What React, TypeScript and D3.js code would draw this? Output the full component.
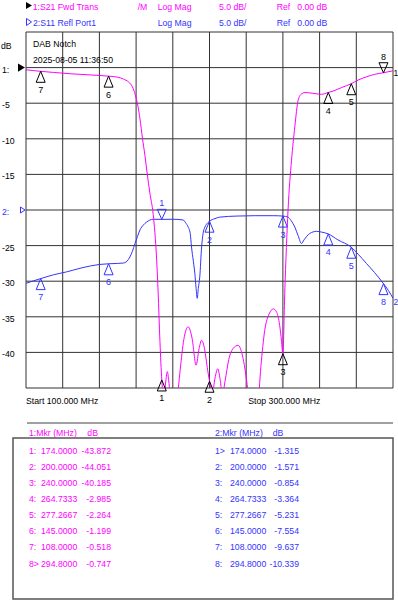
import React, { useEffect, useRef } from 'react';
import * as d3 from 'd3';

// S21 (trace 1), MHz / dB
const s21Freq = [100, 104, 108, 115, 125, 135, 145, 150, 153, 156, 158, 159.5, 161, 162.1, 163.5, 164.8, 166, 167.5, 169.3, 171.2, 172, 173, 174, 175.2, 176.2, 177, 177.8, 179, 180.5, 182.2, 184, 186, 188.4, 190.5, 192.7, 194.3, 195.7, 197.3, 199, 200, 201.5, 203, 204.5, 205.8, 207, 208.5, 210.5, 213, 215.6, 218, 220.5, 222, 224, 226.3, 228, 230.1, 232.5, 234.8, 236.5, 238, 239, 240, 241, 242.8, 244.7, 246.5, 248.3, 250.1, 252, 256, 261, 264.7, 267.3, 272, 277.27, 281, 285.5, 290, 294.8, 300];
const s21Db = [-0.3, -0.42, -0.52, -0.68, -0.88, -1.03, -1.2, -1.35, -1.6, -2.05, -2.7, -3.8, -5.4, -7.2, -10, -12.3, -14.8, -17.6, -20.6, -27, -31.5, -38.5, -43.872, -46.5, -44, -42.7, -44, -47.5, -49, -47, -42.5, -38.2, -36.4, -38, -41.8, -39.5, -38.3, -39.5, -42.5, -44.051, -45.8, -43.6, -42.3, -43.8, -46, -44, -41, -39.4, -39, -40.5, -44.5, -48, -49, -47.5, -42, -36.9, -34.6, -33.9, -34.3, -35.8, -37.8, -40.185, -31.7, -20, -13, -8.3, -4.6, -3.7, -3.5, -3.6, -3.75, -3.5, -3.3, -2.8, -2.264, -1.75, -1.3, -0.95, -0.72, -0.45];

// S11 (trace 2), plotted 20 dB lower (ref position at the "2:" line)
const s11Freq = [100, 104, 108, 115, 122, 130, 140, 145, 150, 153, 155, 156.6, 158, 159.4, 160.8, 162.1, 164, 165.7, 169.3, 174, 180, 185.6, 187, 188.4, 189.5, 190.2, 191.2, 192, 192.7, 193.3, 193.9, 194.7, 195.7, 196.5, 197.5, 199, 200, 203, 205.6, 215, 224.7, 235, 240, 242.8, 244.5, 246.5, 248.3, 250.1, 251.5, 254.6, 258.3, 261, 264.73, 270, 277.27, 281, 285.5, 290, 294.8, 297.5, 300];
const s11Db = [-10.3, -9.95, -9.637, -9.1, -8.7, -8.15, -7.65, -7.554, -7.5, -7.45, -7.2, -6.6, -5.8, -4.7, -3.7, -2.8, -2.1, -1.7, -1.3, -1.315, -1.3, -1.4, -1.8, -2.4, -3.3, -5.2, -7.2, -8.9, -11, -12.4, -11, -9.4, -5.2, -3.3, -2.4, -1.8, -1.571, -1.2, -1.0, -0.85, -0.8, -0.8, -0.854, -1.0, -1.5, -2.4, -3.6, -4.7, -4.2, -3.3, -3.0, -3.1, -3.364, -4.2, -5.231, -6.2, -7.5, -8.8, -10.339, -11.3, -12.4];
const s11Offset = -20;

// marker table
const markerIds = ['1', '2', '3', '4', '5', '6', '7', '8'];
const markerFreq = [174, 200, 240, 264.7333, 277.2667, 145, 108, 294.8];
const s21MarkerDb = [-43.872, -44.051, -40.185, -2.985, -2.264, -1.199, -0.518, -0.747];
const s11MarkerDb = [-1.315, -1.571, -0.854, -3.364, -5.231, -7.554, -9.637, -10.339];
const s21Active = 7;
const s11Active = 0;

const yTicks = [0, -5, -10, -15, -20, -25, -30, -35, -40];
const yTickLabels = ['1:', '-5', '-10', '-15', '2:', '-25', '-30', '-35', '-40'];

const W = 398;
const H = 600;
const plot = { left: 26, right: 393, top: 32, bottom: 388 };
const MAGENTA = '#ff00ff';
const BLUE = '#3434ff';
const GRID = '#333';
const FONT = '"Liberation Sans", Arial, sans-serif';
const FS = 8.7;

const interp = (fs: number[], ds: number[], f: number) => {
  const i = d3.bisectLeft(fs, f);
  if (fs[i] === f) return ds[i];
  const t = (f - fs[i - 1]) / (fs[i] - fs[i - 1]);
  return ds[i - 1] + t * (ds[i] - ds[i - 1]);
};

const App: React.FC = () => {
  const svgRef = useRef<SVGSVGElement>(null);

  useEffect(() => {
    if (!svgRef.current) return;
    const svg = d3.select(svgRef.current);
    svg.selectAll('*').remove();

    const x = d3.scaleLinear().domain([100, 300]).range([plot.left, plot.right]);
    const y = d3.scaleLinear().domain([5, -45]).range([plot.top, plot.bottom]);

    const txt = (px: number, py: number, s: string, color = '#000', anchor = 'start', size = FS) =>
      svg.append('text')
        .attr('x', px).attr('y', py)
        .attr('fill', color)
        .attr('font-family', FONT)
        .attr('font-size', size)
        .attr('text-anchor', anchor)
        .style('white-space', 'pre')
        .text(s);

    // header
    svg.append('path').attr('d', 'M26,2 L32,5.5 L26,9 Z').attr('fill', '#000');
    svg.append('path').attr('d', 'M26.5,18.5 L31.5,22 L26.5,25.5 Z').attr('fill', 'none').attr('stroke', BLUE);
    txt(32.7, 9.5, '1:S21 Fwd Trans', MAGENTA);
    txt(137.7, 9.5, '/M', MAGENTA);
    txt(157.7, 9.5, 'Log Mag', MAGENTA);
    txt(219, 9.5, '5.0 dB/', MAGENTA);
    txt(276.7, 9.5, 'Ref', MAGENTA);
    txt(297.3, 9.5, '0.00 dB', MAGENTA);
    txt(33, 26, '2:S11 Refl Port1', BLUE);
    txt(157.7, 26, 'Log Mag', BLUE);
    txt(219, 26, '5.0 dB/', BLUE);
    txt(276.7, 26, 'Ref', BLUE);
    txt(297.3, 26, '0.00 dB', BLUE);

    // grid
    const grid = svg.append('g').attr('stroke', GRID).attr('stroke-width', 1);
    d3.range(100, 301, 20).forEach(f => {
      grid.append('line').attr('x1', x(f)).attr('x2', x(f)).attr('y1', plot.top).attr('y2', plot.bottom);
    });
    d3.range(5, -46, -5).forEach(v => {
      grid.append('line').attr('x1', plot.left).attr('x2', plot.right).attr('y1', y(v)).attr('y2', y(v));
    });

    // y labels
    txt(1, 48.5, 'dB');
    yTicks.forEach((v, i) => {
      const col = yTickLabels[i] === '2:' ? BLUE : '#000';
      txt(2, y(v) + 5, yTickLabels[i], col);
    });
    const y0 = y(0);
    svg.append('path').attr('d', `M18,${y0 - 4.2} L25,${y0} L18,${y0 + 4.2} Z`).attr('fill', '#000');
    const y2 = y(s11Offset);
    svg.append('path').attr('d', `M20.5,${y2 - 3} L25,${y2} L20.5,${y2 + 3} Z`).attr('fill', 'none').attr('stroke', BLUE);

    txt(33, 47, 'DAB Notch');
    txt(33, 62.5, '2025-08-05 11:36:50');

    // traces
    svg.append('clipPath').attr('id', 'plotClip')
      .append('rect')
      .attr('x', plot.left).attr('y', plot.top)
      .attr('width', plot.right - plot.left).attr('height', plot.bottom - plot.top);

    const line = d3.line<[number, number]>()
      .x(d => x(d[0]))
      .y(d => y(d[1]))
      .curve(d3.curveMonotoneX);

    const s11Pts = s11Freq.map((f, i) => [f, s11Db[i] + s11Offset] as [number, number]);
    const s21Pts = s21Freq.map((f, i) => [f, s21Db[i]] as [number, number]);

    const traces = svg.append('g').attr('clip-path', 'url(#plotClip)').attr('fill', 'none');
    traces.append('path').attr('d', line(s11Pts)).attr('stroke', BLUE).attr('stroke-width', 1);
    traces.append('path').attr('d', line(s21Pts)).attr('stroke', MAGENTA).attr('stroke-width', 1);

    // markers
    const drawMarker = (px: number, py: number, id: string, active: boolean, color: string) => {
      if (active) {
        svg.append('path')
          .attr('d', `M${px},${py} L${px - 4.5},${py - 10} L${px + 4.5},${py - 10} Z`)
          .attr('fill', 'none').attr('stroke', color);
        txt(px, py - 13, id, color, 'middle', 9);
      } else {
        svg.append('path')
          .attr('d', `M${px},${py} L${px - 4.5},${py + 11} L${px + 4.5},${py + 11} Z`)
          .attr('fill', 'none').attr('stroke', color);
        txt(px, py + 21.5, id, color, 'middle', 9);
      }
    };
    markerFreq.forEach((f, i) => {
      const v = interp(s11Freq, s11Db, f) + s11Offset;
      drawMarker(x(f), y(v), markerIds[i], i === s11Active, BLUE);
    });
    markerFreq.forEach((f, i) => {
      const v = interp(s21Freq, s21Db, f);
      drawMarker(x(f), y(v), markerIds[i], i === s21Active, '#000');
    });

    // trace end labels
    txt(plot.right + 0.5, y(s21Db[s21Db.length - 1]) + 5, '1', '#000', 'start', 8.5);
    txt(plot.right + 0.5, y(s11Db[s11Db.length - 1] + s11Offset) + 6.5, '2', BLUE, 'start', 8.5);

    // start / stop
    const [f0, f1] = x.domain();
    txt(26, 404, `Start ${f0.toFixed(3)} MHz`);
    txt(248.3, 404, `Stop ${f1.toFixed(3)} MHz`);

    // marker table
    svg.append('line').attr('x1', 27).attr('x2', 393).attr('y1', 423).attr('y2', 423)
      .attr('stroke', '#a0a0a0').attr('stroke-width', 2);
    svg.append('rect').attr('x', 13).attr('y', 438).attr('width', 380).attr('height', 161)
      .attr('fill', 'none').attr('stroke', '#555').attr('stroke-width', 1.5);

    txt(29, 436, '1:Mkr (MHz)', MAGENTA);
    txt(87.3, 436, 'dB', MAGENTA);
    txt(215, 436, '2:Mkr (MHz)', BLUE);
    txt(272.7, 436, 'dB', BLUE);

    markerIds.forEach((id, i) => {
      const ry = 453.5 + i * 16.15;
      txt(29, ry, id + (i === s21Active ? '>' : ':'), MAGENTA);
      txt(41, ry, markerFreq[i].toFixed(4), MAGENTA);
      txt(111, ry, s21MarkerDb[i].toFixed(3), MAGENTA, 'end');
      txt(215, ry, id + (i === s11Active ? '>' : ':'), BLUE);
      txt(230, ry, markerFreq[i].toFixed(4), BLUE);
      txt(299, ry, s11MarkerDb[i].toFixed(3), BLUE, 'end');
    });
  }, []);

  return (
    <svg
      ref={svgRef}
      width={W}
      height={H}
      style={{ position: 'absolute', left: 0, top: 0, background: '#fff' }}
    />
  );
};

export default App;
